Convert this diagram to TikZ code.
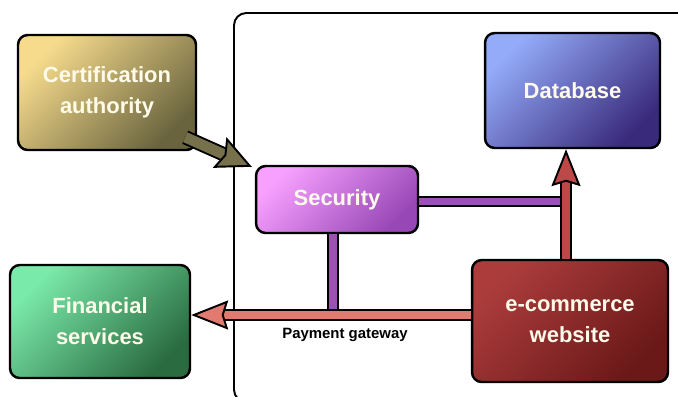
\documentclass[tikz,border=0pt]{standalone}
\usepackage{fontspec}
\setmainfont{Liberation Sans}
\usetikzlibrary{arrows.meta}

\definecolor{certlight}{HTML}{F6DB8C}
\definecolor{certdark}{HTML}{6A643E}
\definecolor{dblight}{HTML}{93ABF9}
\definecolor{dbdark}{HTML}{3A2A7C}
\definecolor{seclight}{HTML}{F7A0FF}
\definecolor{secdark}{HTML}{9848B6}
\definecolor{finlight}{HTML}{7AEAAA}
\definecolor{findark}{HTML}{2A6C40}
\definecolor{weblight}{HTML}{AC3C3C}
\definecolor{webdark}{HTML}{6A1818}
\definecolor{labeltext}{HTML}{FFFBEA}
\definecolor{olivearrow}{HTML}{76714A}
\definecolor{redarrow}{HTML}{BC4848}
\definecolor{salmonarrow}{HTML}{E27A70}
\definecolor{purplebar}{HTML}{9C52B2}

\begin{document}
\begin{tikzpicture}[x=0.02cm, y=-0.02cm,
  box/.style={draw=black, line width=1.4pt, rounded corners=5.5pt, align=center,
    text=labeltext, font=\fontsize{12.5}{17.5}\selectfont\bfseries,
    top color=#1light, bottom color=#1dark, shading angle=45},
  fatline/.style={draw=black, line width=1.1pt, double=#1, double distance=4.5pt},
  fatarrow/.style={fatline=#1, -{Stealth[width=16.5pt, length=21pt, inset=2.5pt, fill=#1]}}]
\useasboundingbox (0,0) rectangle (678,396);
\clip (0,0) rectangle (678,396);

% system boundary
\draw [line width=1.1pt, rounded corners=7pt] (700,13) -- (234,13) -- (234,402) -- (300,402);

\node (cert) [box=cert, minimum width=3.56cm, minimum height=2.3cm] at (107,92.5) {Certification\\authority};
\node (db) [box=db, minimum width=3.5cm, minimum height=2.3cm] at (572.5,90.5) {Database};
\node (sec) [box=sec, minimum width=3.24cm, minimum height=1.34cm] at (337,199.5) {Security};
\node (fin) [box=fin, minimum width=3.6cm, minimum height=2.26cm] at (100,321.5) {Financial\\services};

% security links into the bus
\draw [fatline=purplebar] ([yshift=-0.04cm]sec.east) -- ([xshift=-0.08cm,yshift=-0.04cm]sec.east -| db.south);
\draw [fatline=purplebar] ([xshift=-0.08cm]sec.south) -- ([xshift=-0.08cm,yshift=0.12cm]sec.south |- fin.east);

\node (web) [box=web, minimum width=3.92cm, minimum height=2.44cm] at (570,321) {e-commerce\\website};

\draw [fatarrow=redarrow] ([xshift=-0.08cm]web.north) -- ([xshift=-0.08cm]web.north |- db.south);
\draw [fatarrow=salmonarrow] ([yshift=0.12cm]web.west) -- ([yshift=0.12cm]web.west -| fin.east);
\draw [fatarrow=olivearrow, double distance=6pt, -{Stealth[width=19pt, length=20pt, inset=3pt, fill=olivearrow]}]
  ([shift={(-12,-14)}]cert.south east) -- ([shift={(-3,2)}]sec.north west);

\node (pay) [font=\fontsize{8.5}{10}\selectfont\bfseries] at (345,335) {Payment gateway};
\end{tikzpicture}
\end{document}
